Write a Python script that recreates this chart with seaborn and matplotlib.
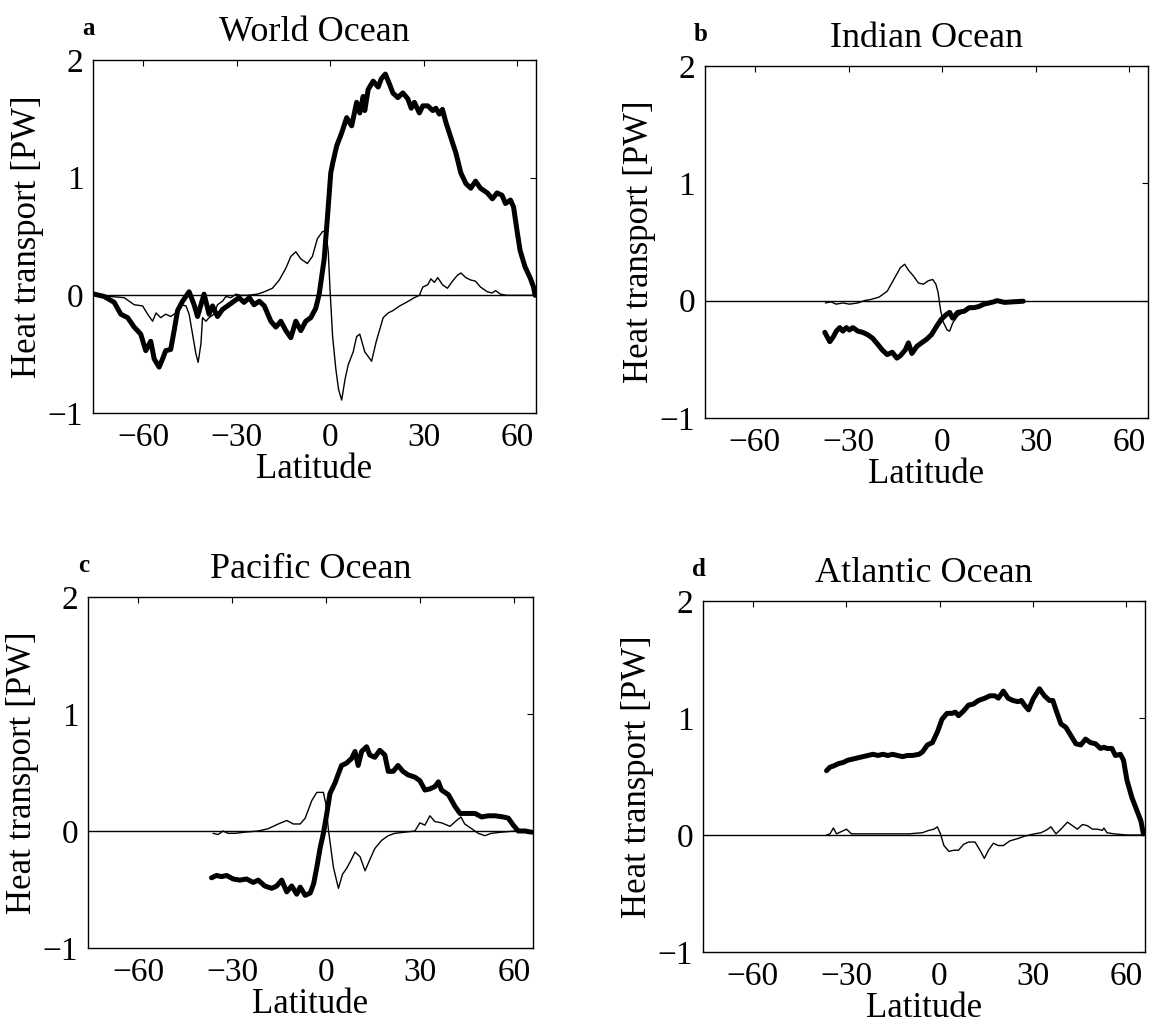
import matplotlib
matplotlib.use("Agg")
import matplotlib.pyplot as plt
import seaborn as sns

# --- data (latitude in degrees, heat transport in PW) ---
world_thick_lat = [-75.6, -72.4, -69.2, -67.1, -64.9, -62.8, -60.7, -59.1, -57.5, -56.4, -54.8, -53.7,
                   -52.7, -51.1, -50.0, -48.9, -47.3, -45.2, -43.6, -42.5, -41.4, -40.4, -38.8, -37.7,
                   -36.1, -34.5, -32.9, -30.8, -29.2, -27.6, -25.9, -24.4, -22.7, -21.1, -19.0, -17.4,
                   -15.8, -14.2, -12.6, -11.0, -9.4, -7.8, -6.2, -4.6, -3.5, -1.9, -0.9, 0.2, 0.8, 2.1,
                   3.7, 5.3, 6.9, 8.5, 9.5, 10.6, 11.1, 12.2, 13.8, 15.4, 16.4, 17.7, 19.1, 20.1, 21.7,
                   23.3, 24.9, 26.0, 27.0, 28.6, 29.7, 31.3, 32.9, 33.9, 35.0, 36.0, 37.1, 38.7, 40.3,
                   41.9, 43.5, 45.1, 46.6, 48.2, 50.4, 52.0, 53.5, 55.1, 56.2, 57.8, 58.8, 59.9, 60.9,
                   62.5, 64.1, 65.2, 65.7]
world_thick_val = [0.01, -0.01, -0.06, -0.16, -0.19, -0.27, -0.33, -0.47, -0.39, -0.54, -0.61, -0.54,
                   -0.47, -0.46, -0.30, -0.13, -0.05, 0.03, -0.08, -0.18, -0.08, 0.01, -0.16, -0.09,
                   -0.18, -0.12, -0.09, -0.05, -0.02, -0.06, -0.02, -0.08, -0.05, -0.09, -0.22, -0.27,
                   -0.22, -0.30, -0.36, -0.22, -0.30, -0.22, -0.19, -0.11, 0.01, 0.31, 0.65, 1.04, 1.12,
                   1.27, 1.38, 1.51, 1.44, 1.64, 1.55, 1.69, 1.57, 1.75, 1.82, 1.77, 1.84, 1.88, 1.79,
                   1.72, 1.68, 1.72, 1.67, 1.59, 1.64, 1.55, 1.61, 1.61, 1.57, 1.59, 1.54, 1.58, 1.47,
                   1.34, 1.21, 1.04, 0.95, 0.91, 0.97, 0.91, 0.87, 0.82, 0.87, 0.85, 0.78, 0.81, 0.75,
                   0.55, 0.38, 0.24, 0.15, 0.07, 0.0]
world_thin_lat = [-75.6, -70.3, -66.0, -62.8, -60.1, -58.5, -56.9, -55.8, -54.3, -52.7, -51.1, -49.5,
                  -47.8, -46.2, -45.2, -44.1, -43.0, -42.3, -41.4, -40.9, -39.8, -38.8, -37.2, -36.1,
                  -34.5, -33.4, -31.8, -30.2, -28.6, -26.5, -23.3, -21.1, -18.5, -16.3, -14.2, -12.6,
                  -11.0, -9.4, -7.3, -5.7, -4.1, -2.5, -1.4, -0.6, 0.0, 0.8, 1.8, 2.7, 3.7, 4.8, 5.8,
                  7.4, 8.5, 9.5, 11.1, 13.3, 14.8, 17.0, 18.6, 20.1, 22.3, 24.4, 27.0, 28.6, 29.7,
                  31.3, 32.3, 33.4, 34.5, 36.0, 37.6, 39.2, 40.8, 41.9, 43.5, 45.1, 46.6, 48.2, 50.4,
                  51.9, 53.0, 54.6, 56.7, 60.9, 65.7]
world_thin_val = [0.01, -0.01, -0.02, -0.08, -0.09, -0.16, -0.22, -0.15, -0.19, -0.16, -0.18, -0.15,
                  -0.08, -0.09, -0.16, -0.33, -0.50, -0.57, -0.41, -0.19, -0.22, -0.19, -0.16, -0.08,
                  -0.05, -0.01, -0.02, 0.01, 0.0, 0.0, 0.01, 0.03, 0.06, 0.13, 0.23, 0.33,
                  0.37, 0.31, 0.27, 0.33, 0.48, 0.54, 0.55, 0.37, 0.03, -0.35, -0.62, -0.80, -0.89,
                  -0.71, -0.59, -0.48, -0.35, -0.33, -0.48, -0.56, -0.39, -0.19, -0.15, -0.13, -0.09,
                  -0.06, -0.02, 0.0, 0.07, 0.09, 0.14, 0.11, 0.15, 0.09, 0.06, 0.12, 0.17, 0.19, 0.15,
                  0.13, 0.12, 0.07, 0.03, 0.02, 0.04, 0.01, 0.0, 0.0, 0.0]

indian_thick_lat = [-37.6, -36.0, -34.9, -33.9, -32.8, -31.8, -30.7, -29.7, -28.6, -27.0, -25.5, -23.9,
                    -22.3, -20.7, -19.2, -17.6, -16.0, -14.5, -13.4, -11.8, -10.8, -9.7, -8.1, -6.6,
                    -5.0, -3.4, -1.8, -0.3, 1.3, 2.4, 3.4, 5.0, 7.1, 8.7, 10.2, 11.8, 13.4, 15.0, 16.6,
                    17.6, 20.0, 23.0, 26.0]
indian_thick_val = [-0.27, -0.35, -0.31, -0.26, -0.23, -0.26, -0.23, -0.25, -0.23, -0.26, -0.27, -0.29,
                    -0.32, -0.37, -0.42, -0.46, -0.44, -0.49, -0.47, -0.42, -0.36, -0.45, -0.39, -0.36,
                    -0.33, -0.29, -0.22, -0.16, -0.12, -0.10, -0.15, -0.10, -0.09, -0.06, -0.06, -0.05,
                    -0.03, -0.02, -0.01, 0.0, -0.015, -0.01, -0.005]
indian_thin_lat = [-37.4, -35.6, -34.0, -31.8, -29.7, -27.0, -24.9, -22.8, -20.2, -17.6, -15.5, -13.4,
                   -12.0, -10.8, -9.2, -7.6, -6.0, -4.4, -3.0, -2.0, -1.3, -0.5, 0.3, 1.6, 2.4, 3.4,
                   5.0, 7.1, 10.0, 14.0, 18.0, 22.0, 26.0]
indian_thin_val = [-0.02, -0.01, -0.03, -0.02, -0.03, -0.02, 0.0, 0.01, 0.03, 0.08, 0.18, 0.28,
                   0.31, 0.26, 0.21, 0.15, 0.14, 0.17, 0.18, 0.14, 0.07, -0.08, -0.18, -0.25, -0.26,
                   -0.19, -0.13, -0.09, -0.05, -0.03, -0.01, 0.0, 0.0]

pacific_thick_lat = [-36.6, -35.0, -33.4, -31.8, -29.7, -27.6, -25.4, -23.3, -21.7, -19.6, -17.4, -15.8,
                     -14.2, -12.6, -11.0, -9.4, -8.3, -6.7, -5.1, -4.0, -3.0, -1.9, -0.9, 0.2, 1.2, 2.8,
                     3.9, 4.9, 6.5, 8.1, 9.2, 10.2, 11.3, 12.9, 13.9, 15.5, 17.1, 18.7, 19.8, 21.4,
                     22.9, 24.5, 26.1, 28.3, 29.9, 31.5, 33.1, 34.7, 35.8, 36.8, 39.0, 41.1, 42.7,
                     44.8, 47.5, 49.6, 51.7, 53.9, 56.5, 58.1, 59.7, 61.3, 63.4, 65.5]
pacific_thick_val = [-0.40, -0.38, -0.39, -0.38, -0.41, -0.42, -0.41, -0.44, -0.42, -0.47, -0.49, -0.47,
                     -0.42, -0.52, -0.47, -0.54, -0.48, -0.55, -0.53, -0.45, -0.31, -0.14, -0.02, 0.15,
                     0.32, 0.41, 0.49, 0.56, 0.58, 0.62, 0.68, 0.56, 0.68, 0.72, 0.65, 0.63, 0.69, 0.65,
                     0.51, 0.51, 0.56, 0.51, 0.48, 0.46, 0.43, 0.35, 0.36, 0.38, 0.42, 0.35, 0.31, 0.21,
                     0.15, 0.15, 0.15, 0.12, 0.13, 0.13, 0.12, 0.11, 0.05, 0.0, 0.0, -0.01]
pacific_thin_lat = [-36.1, -34.5, -32.9, -31.3, -29.2, -26.0, -21.7, -18.5, -15.3, -12.6, -10.5, -8.3,
                    -6.7, -4.6, -3.0, -0.9, -0.1, 0.7, 2.3, 3.9, 5.2, 6.5, 7.9, 9.2, 10.8, 12.4, 14.0,
                    15.5, 17.7, 19.8, 21.9, 25.1, 28.3, 29.9, 31.5, 33.1, 34.7, 36.8, 39.5, 41.6, 43.0,
                    44.2, 46.4, 48.5, 50.6, 52.7, 55.9, 60.2, 65.5]
pacific_thin_val = [-0.02, -0.03, 0.0, -0.02, -0.02, -0.01, 0.0, 0.02, 0.06, 0.09, 0.06, 0.06,
                    0.11, 0.26, 0.33, 0.33, 0.23, 0.01, -0.31, -0.49, -0.37, -0.32, -0.25, -0.18, -0.22,
                    -0.34, -0.24, -0.15, -0.08, -0.04, -0.02, -0.01, 0.0, 0.07, 0.05, 0.13, 0.08, 0.07,
                    0.04, 0.09, 0.12, 0.06, 0.02, -0.02, -0.04, -0.02, -0.01, 0.0, 0.0]

atlantic_thick_lat = [-36.3, -35.2, -34.1, -32.5, -31.0, -29.4, -27.8, -26.2, -24.6, -23.0, -21.4, -19.8,
                      -18.2, -16.6, -15.1, -13.5, -11.9, -10.3, -8.7, -6.6, -5.5, -3.9, -2.3, -0.7, 0.8,
                      2.4, 4.0, 5.1, 6.1, 7.7, 9.3, 10.9, 12.5, 14.6, 16.2, 17.8, 18.9, 20.5, 22.0, 23.6,
                      25.2, 26.3, 27.3, 28.6, 30.0, 32.1, 33.7, 35.3, 36.4, 37.4, 39.0, 40.6, 42.2, 43.8,
                      45.4, 46.9, 48.5, 50.1, 51.7, 52.8, 53.8, 55.4, 56.5, 58.1, 59.1, 60.2, 61.8, 63.4,
                      64.7, 65.5]
atlantic_thick_val = [0.55, 0.58, 0.59, 0.61, 0.62, 0.64, 0.65, 0.66, 0.67, 0.68, 0.69, 0.68,
                      0.69, 0.68, 0.69, 0.68, 0.67, 0.68, 0.68, 0.69, 0.71, 0.77, 0.79, 0.88, 0.99,
                      1.04, 1.04, 1.05, 1.02, 1.06, 1.11, 1.12, 1.15, 1.17, 1.19, 1.19, 1.17, 1.23, 1.17,
                      1.15, 1.14, 1.15, 1.11, 1.07, 1.16, 1.25, 1.19, 1.15, 1.15, 1.07, 0.95, 0.92, 0.85,
                      0.78, 0.77, 0.82, 0.79, 0.78, 0.74, 0.75, 0.74, 0.74, 0.68, 0.69, 0.64, 0.47, 0.32,
                      0.21, 0.12, 0.01]
atlantic_thin_lat = [-36.3, -35.2, -34.1, -33.1, -31.5, -29.9, -28.3, -24.6, -16.1, -9.8, -5.5, -3.4,
                     -1.8, -0.7, 0.3, 1.4, 3.0, 4.6, 6.1, 7.7, 9.3, 11.4, 13.0, 14.4, 15.7, 17.3, 18.9,
                     20.5, 22.6, 25.2, 27.3, 30.5, 32.6, 34.2, 35.8, 37.4, 39.0, 41.1, 42.7, 44.3, 45.9,
                     47.5, 49.1, 50.7, 52.3, 52.8, 53.8, 56.0, 60.2, 65.5]
atlantic_thin_val = [0.0, 0.01, 0.06, 0.01, 0.03, 0.05, 0.01, 0.01, 0.01, 0.01, 0.02, 0.04,
                     0.05, 0.07, 0.01, -0.09, -0.14, -0.13, -0.13, -0.08, -0.06, -0.06, -0.13, -0.20,
                     -0.13, -0.07, -0.09, -0.09, -0.05, -0.03, -0.01, 0.01, 0.02, 0.04, 0.07, 0.01,
                     0.05, 0.11, 0.08, 0.05, 0.09, 0.08, 0.05, 0.05, 0.04, 0.06, 0.02, 0.01, 0.0, 0.0]

panel_letters = ["a", "b", "c", "d"]
panel_titles = ["World Ocean", "Indian Ocean", "Pacific Ocean", "Atlantic Ocean"]
x_ticks = [-60, -30, 0, 30, 60]
y_ticks = [-1, 0, 1, 2]

sns.set_style("white")
plt.rcParams['font.family'] = ['Liberation Serif', 'DejaVu Serif']
plt.rcParams['axes.unicode_minus'] = True
plt.rcParams['text.color'] = 'black'
plt.rcParams['axes.labelcolor'] = 'black'
plt.rcParams['xtick.color'] = 'black'
plt.rcParams['ytick.color'] = 'black'

fig = plt.figure(figsize=(11.57, 10.32), dpi=100)

# axes boxes in figure fractions [left, bottom, width, height]
boxes = [
    [0.0804, 0.5998, 0.3829, 0.3421],
    [0.6093, 0.5950, 0.3830, 0.3411],
    [0.0761, 0.0814, 0.3846, 0.3401],
    [0.6076, 0.0775, 0.3820, 0.3401],
]
panels = [
    (world_thick_lat, world_thick_val, world_thin_lat, world_thin_val),
    (indian_thick_lat, indian_thick_val, indian_thin_lat, indian_thin_val),
    (pacific_thick_lat, pacific_thick_val, pacific_thin_lat, pacific_thin_val),
    (atlantic_thick_lat, atlantic_thick_val, atlantic_thin_lat, atlantic_thin_val),
]

for i, box in enumerate(boxes):
    ax = fig.add_axes(box)
    thick_x, thick_y, thin_x, thin_y = panels[i]
    ax.axhline(0, color="black", linewidth=1.0, zorder=1)
    sns.lineplot(x=thin_x, y=thin_y, ax=ax, color="black", linewidth=1.0,
                 sort=False, estimator=None, zorder=2)
    sns.lineplot(x=thick_x, y=thick_y, ax=ax, color="black", linewidth=3.6,
                 sort=False, estimator=None, zorder=3)
    ax.set_xlim(-76, 66)
    ax.set_ylim(-1, 2)
    ax.set_xticks(x_ticks)
    ax.set_yticks(y_ticks)
    ax.tick_params(direction="in", length=4, width=0.8, top=True, right=True,
                   labelsize=24, pad=7, colors="black")
    for sp in ax.spines.values():
        sp.set_visible(True)
        sp.set_color("black")
        sp.set_linewidth(1.0)
    ax.set_xlabel("Latitude", fontsize=25, labelpad=0)
    ax.set_ylabel("Heat transport [PW]", fontsize=25, labelpad=3)
    ax.set_title(panel_titles[i], fontsize=26, pad=14)
    ax.text(-0.01, 1.09, panel_letters[i], transform=ax.transAxes, fontsize=18,
            fontweight="bold", ha="center", va="center")

fig.savefig("out.png", dpi=100, facecolor="white")
